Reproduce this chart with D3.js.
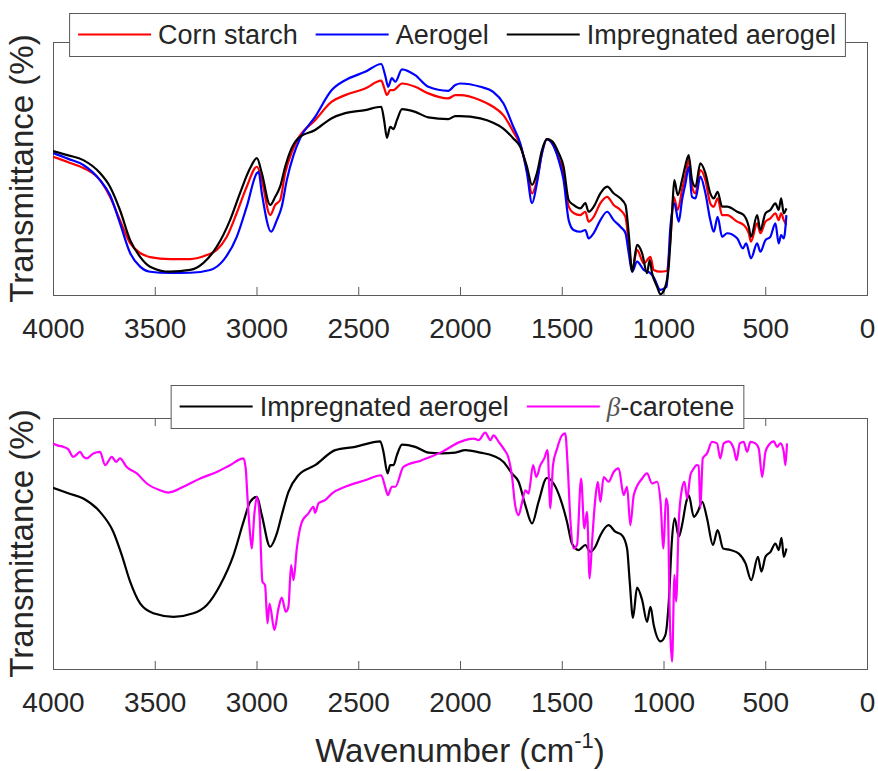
<!DOCTYPE html>
<html>
<head>
<meta charset="utf-8">
<script src="https://cdn.jsdelivr.net/npm/d3@7"></script>
<style>
  html, body { margin: 0; padding: 0; background: #fff; }
  svg { display: block; }
  text { font-family: "Liberation Sans", Arial, Helvetica, sans-serif; fill: #262626; }
</style>
</head>
<body>
<svg id="chart" width="878" height="771"></svg>
<script>
// ---------------- DATA ----------------
const xTicks = [4000, 3500, 3000, 2500, 2000, 1500, 1000, 500, 0];

// Top panel: [wavenumber (cm^-1), transmittance (a.u., %)]
const cornStarch = [[4000,54.6],[3925,52.5],[3851,50.2],[3769,45.4],[3720,38.8],[3671,29.6],[3621,20.5],[3572,16.6],[3523,15.0],[3425,14.2],[3326,14.2],[3244,15.8],[3195,17.8],[3146,23.0],[3097,32.4],[3048,42.8],[2998,50.7],[2974,45.4],[2933,31.6],[2908,35.6],[2884,37.5],[2859,48.2],[2826,56.6],[2794,62.0],[2712,69.1],[2630,76.4],[2564,79.0],[2466,81.6],[2387,84.7],[2373,82.0],[2359,79.0],[2343,81.0],[2327,81.0],[2285,83.6],[2220,82.3],[2156,79.7],[2058,77.7],[2023,79.0],[1999,79.0],[1900,77.0],[1837,74.4],[1787,71.1],[1738,64.5],[1704,59.3],[1671,49.4],[1646,40.2],[1622,45.4],[1597,56.1],[1573,61.6],[1548,60.0],[1515,54.1],[1491,48.2],[1466,34.9],[1442,32.4],[1409,31.6],[1384,32.9],[1368,29.0],[1343,30.9],[1310,36.3],[1277,38.8],[1245,35.6],[1212,33.6],[1187,30.9],[1171,20.5],[1154,9.9],[1130,17.8],[1097,12.5],[1064,15.1],[1048,9.9],[1015,9.2],[985,9.5],[966,21.7],[950,38.8],[930,33.6],[909,41.5],[892,47.4],[876,53.3],[860,42.8],[843,40.2],[819,49.4],[794,45.4],[770,36.2],[753,34.9],[734,38.2],[712,31.6],[687,31.6],[638,29.0],[606,27.7],[581,24.4],[570,21.1],[540,28.3],[524,24.4],[499,29.0],[475,30.3],[450,32.3],[434,29.6],[422,32.3],[409,29.6],[396,27.7]];

const aerogel = [[4000,56.1],[3925,53.8],[3851,51.4],[3769,45.4],[3720,39.5],[3671,28.4],[3621,16.6],[3572,11.2],[3523,9.2],[3425,8.7],[3326,8.8],[3228,9.9],[3162,13.8],[3097,23.0],[3048,34.9],[2998,48.2],[2990,48.7],[2974,40.3],[2928,25.0],[2900,29.6],[2876,34.9],[2851,45.4],[2818,55.3],[2785,62.0],[2712,70.4],[2630,81.0],[2564,84.9],[2466,88.2],[2387,91.3],[2366,86.2],[2353,82.3],[2335,85.7],[2318,84.3],[2285,89.2],[2220,86.9],[2156,82.3],[2058,80.7],[2023,83.0],[1999,83.6],[1900,82.3],[1837,80.3],[1787,75.8],[1738,66.5],[1704,60.0],[1671,48.2],[1646,36.3],[1622,44.2],[1597,56.1],[1573,61.6],[1548,60.0],[1515,53.3],[1491,45.4],[1466,29.6],[1442,25.7],[1409,25.0],[1384,25.7],[1368,22.4],[1343,24.5],[1310,29.6],[1277,32.9],[1245,29.6],[1212,27.0],[1187,24.5],[1171,16.6],[1154,9.2],[1130,13.2],[1097,9.9],[1064,8.6],[1048,7.0],[1015,2.0],[985,3.3],[966,27.0],[947,36.2],[925,29.0],[909,37.5],[892,44.1],[876,50.7],[860,38.8],[843,38.2],[819,46.8],[794,40.2],[770,29.6],[753,25.0],[734,30.9],[712,23.0],[687,24.4],[638,22.4],[610,18.4],[594,20.4],[570,14.5],[540,20.4],[524,17.1],[499,21.7],[475,23.0],[450,28.3],[434,20.4],[422,23.7],[409,22.4],[396,31.6]];

const impregnatedTop = [[4000,56.9],[3925,55.2],[3851,53.3],[3769,48.2],[3720,42.8],[3671,33.6],[3621,21.7],[3572,15.1],[3523,11.2],[3425,9.2],[3326,9.9],[3262,12.6],[3195,19.1],[3130,29.6],[3081,40.3],[3031,50.2],[2998,54.1],[2974,48.2],[2933,35.6],[2908,38.8],[2884,42.8],[2859,50.7],[2835,56.6],[2794,62.0],[2712,65.2],[2630,69.9],[2564,71.9],[2466,73.1],[2387,74.4],[2373,69.1],[2359,62.1],[2343,66.5],[2327,65.6],[2310,69.1],[2285,73.5],[2220,72.4],[2156,70.2],[2058,69.5],[2023,70.7],[1999,70.7],[1900,69.8],[1837,68.1],[1787,65.8],[1738,61.9],[1704,58.6],[1671,50.7],[1646,43.5],[1622,48.2],[1597,57.3],[1573,61.6],[1548,60.8],[1515,56.1],[1491,50.7],[1466,37.5],[1442,35.6],[1409,34.2],[1384,36.3],[1368,32.9],[1343,34.9],[1310,40.2],[1277,42.8],[1245,40.2],[1212,38.2],[1187,35.6],[1171,24.4],[1154,9.2],[1130,19.8],[1105,16.5],[1081,8.6],[1068,13.8],[1056,8.6],[1032,3.3],[1015,0.3],[991,3.3],[975,10.7],[958,32.3],[947,45.4],[930,39.5],[909,45.4],[892,51.4],[876,55.3],[860,45.4],[843,42.8],[819,52.0],[794,48.1],[770,40.2],[753,38.2],[734,40.8],[712,34.9],[687,34.9],[638,32.9],[606,31.6],[581,27.0],[570,23.0],[540,31.6],[524,25.7],[499,32.3],[475,33.6],[450,36.2],[434,33.6],[422,38.2],[409,32.3],[396,34.2]];

// Bottom panel
const impregnatedBottom = [[4000,72.2],[3925,70.0],[3851,67.9],[3769,62.6],[3704,54.7],[3662,45.4],[3621,34.8],[3572,26.1],[3507,22.2],[3408,20.8],[3310,22.2],[3244,25.5],[3179,33.4],[3113,45.4],[3064,58.6],[3031,66.6],[2998,68.6],[2974,61.3],[2933,48.7],[2900,54.0],[2876,61.3],[2843,70.6],[2794,77.2],[2712,81.2],[2613,87.2],[2515,88.5],[2392,90.7],[2376,86.5],[2356,77.9],[2343,81.2],[2327,81.2],[2310,85.2],[2285,89.4],[2220,88.5],[2155,86.2],[2089,85.9],[2023,86.2],[1974,87.2],[1900,86.2],[1835,84.9],[1786,82.5],[1745,77.9],[1712,74.6],[1679,65.3],[1646,58.0],[1614,66.6],[1573,76.1],[1540,73.9],[1507,67.9],[1474,58.6],[1450,50.0],[1417,47.4],[1384,49.4],[1360,46.7],[1335,48.7],[1310,53.3],[1270,57.3],[1237,54.7],[1204,53.3],[1179,48.0],[1166,34.8],[1150,20.4],[1130,32.4],[1105,27.5],[1081,18.8],[1064,24.8],[1048,17.5],[1015,11.0],[991,13.5],[974,26.8],[958,52.0],[945,60.0],[925,52.7],[909,57.3],[888,66.6],[876,69.3],[851,60.6],[832,62.6],[810,66.6],[786,60.0],[757,49.4],[734,55.3],[707,48.0],[671,47.4],[630,46.0],[597,42.1],[569,35.4],[536,44.7],[519,38.8],[499,44.7],[474,46.7],[450,50.0],[434,47.4],[420,52.3],[409,44.7],[396,48.0]];

const betaCarotene = [[4000,89.8],[3975,89.0],[3949,88.5],[3925,87.5],[3900,84.5],[3867,86.5],[3850,84.5],[3834,83.9],[3802,85.9],[3769,86.5],[3744,81.2],[3711,84.5],[3690,82.5],[3671,83.9],[3638,80.5],[3588,77.9],[3539,73.9],[3474,71.2],[3433,70.3],[3359,72.6],[3277,75.9],[3195,78.5],[3130,81.2],[3064,83.9],[3053,79.9],[3044,67.9],[3031,53.3],[3023,48.0],[3011,61.3],[2998,68.6],[2985,61.3],[2971,34.8],[2958,33.4],[2946,18.2],[2936,26.1],[2912,15.5],[2892,24.2],[2876,28.4],[2856,22.8],[2843,24.8],[2830,41.4],[2818,35.4],[2802,48.0],[2777,58.6],[2745,62.0],[2720,64.6],[2712,62.2],[2695,66.0],[2663,67.3],[2630,69.9],[2564,72.6],[2466,75.2],[2387,77.2],[2368,72.6],[2354,69.3],[2335,72.6],[2318,72.6],[2278,80.5],[2187,83.2],[2089,86.5],[1999,90.5],[1933,91.8],[1909,91.2],[1876,94.2],[1851,91.2],[1835,93.1],[1810,90.5],[1786,87.8],[1761,83.9],[1745,77.2],[1729,65.3],[1712,61.3],[1696,66.0],[1679,71.2],[1663,69.9],[1641,81.2],[1625,76.5],[1605,81.2],[1586,83.9],[1570,87.2],[1556,64.0],[1543,81.2],[1523,87.8],[1499,93.1],[1483,93.9],[1471,81.2],[1458,60.0],[1442,48.0],[1425,49.4],[1405,75.9],[1389,56.0],[1376,62.6],[1363,36.1],[1351,50.7],[1335,67.9],[1323,74.6],[1310,66.6],[1294,76.5],[1270,74.6],[1245,78.5],[1220,79.9],[1196,69.3],[1179,72.6],[1163,57.3],[1146,69.3],[1105,75.9],[1081,77.9],[1056,73.9],[1032,74.6],[1015,67.0],[1000,48.0],[988,68.0],[979,65.0],[969,20.0],[958,2.9],[946,37.5],[938,26.8],[925,58.6],[909,71.9],[897,74.6],[884,67.9],[868,77.2],[851,79.9],[838,81.2],[827,81.0],[819,64.0],[807,83.9],[786,85.9],[762,90.5],[737,89.9],[721,83.9],[704,89.9],[680,90.7],[655,87.8],[641,83.2],[625,89.9],[606,90.5],[589,86.5],[573,90.5],[548,89.9],[532,87.8],[515,76.5],[499,86.5],[483,89.2],[458,90.7],[442,88.5],[425,89.9],[409,86.5],[401,81.2],[393,89.9]];

const topLabels = ["Corn starch", "Aerogel", "Impregnated aerogel"];
const topColors = ["#ff0000", "#0000ff", "#000000"];
const bottomLabels = ["Impregnated aerogel", "β-carotene"];
const bottomColors = ["#000000", "#ff00ff"];

const yLabel = "Transmittance (%)";
const xLabelMain = "Wavenumber (cm";
const xLabelSup = "-1";

// ---------------- LAYOUT ----------------
const svg = d3.select("#chart");
const left = 53, right = 867;
const panels = [
  { top: 42, bottom: 295, series: [cornStarch, aerogel, impregnatedTop], colors: topColors, labels: topLabels, legendY: 13 },
  { top: 418, bottom: 669, series: [impregnatedBottom, betaCarotene], colors: bottomColors, labels: bottomLabels, legendY: 385 }
];
const axisColor = "#5a5a5a";
const textColor = "#262626";

const x = d3.scaleLinear().domain([4000, 0]).range([left, right]);

panels.forEach((p, i) => {
  const y = d3.scaleLinear().domain([0, 100]).range([p.bottom, p.top]);
  const g = svg.append("g");

  const clipId = "clip" + i;
  svg.append("clipPath").attr("id", clipId)
    .append("rect").attr("x", left).attr("y", p.top).attr("width", right - left).attr("height", p.bottom - p.top + 1);

  const xb = d3.axisBottom(x).tickValues(xTicks).tickSize(-8).tickPadding(23).tickFormat(d3.format("d"));
  const gx = g.append("g").attr("transform", `translate(0,${p.bottom})`).call(xb);
  gx.select(".domain").remove();
  gx.selectAll(".tick line").attr("stroke", axisColor);
  gx.selectAll(".tick text").attr("fill", textColor).style("font-size", "28px")
    .style("font-family", '"Liberation Sans", Arial, sans-serif');

  const xt = d3.axisTop(x).tickValues(xTicks).tickSize(-8).tickFormat("");
  const gxt = g.append("g").attr("transform", `translate(0,${p.top})`).call(xt);
  gxt.select(".domain").remove();
  gxt.selectAll(".tick line").attr("stroke", axisColor);

  g.append("rect").attr("x", left + 0.5).attr("y", p.top + 0.5)
    .attr("width", right - left).attr("height", p.bottom - p.top)
    .attr("fill", "none").attr("stroke", axisColor).attr("stroke-width", 1);

  const line = d3.line().x(d => x(d[0])).y(d => y(d[1])).curve(d3.curveMonotoneX);
  const lg = g.append("g").attr("clip-path", `url(#${clipId})`);
  p.series.forEach((s, k) => {
    lg.append("path").datum(s).attr("d", line)
      .attr("fill", "none").attr("stroke", p.colors[k]).attr("stroke-width", 2.2)
      .attr("stroke-linejoin", "round");
  });

  svg.append("text")
    .attr("transform", `translate(33,${(p.top + p.bottom) / 2}) rotate(-90)`)
    .attr("text-anchor", "middle").style("font-size", "33px")
    .text(yLabel);

  // legend
  const leg = svg.append("g");
  const box = leg.append("rect").attr("fill", "#fff").attr("stroke", axisColor).attr("stroke-width", 1);
  const items = leg.append("g");
  let cx = 0;
  const midY = 21.5;
  p.labels.forEach((lab, k) => {
    items.append("line").attr("x1", cx).attr("x2", cx + 73).attr("y1", midY).attr("y2", midY)
      .attr("stroke", p.colors[k]).attr("stroke-width", 2);
    const t = items.append("text").attr("x", cx + 80).attr("y", midY + 9.8).style("font-size", "27px");
    if (lab.startsWith("β")) {
      t.append("tspan").style("font-style", "italic").style("font-family", '"Liberation Serif", "DejaVu Serif", serif')
        .attr("fill", "#555").text("β");
      t.append("tspan").text(lab.slice(1));
    } else {
      t.text(lab);
    }
    cx = cx + 80 + t.node().getComputedTextLength() + 18;
  });
  const contentW = cx - 18;
  const boxW = contentW + 18;
  const boxX = 457 - boxW / 2;
  box.attr("x", boxX + 0.5).attr("y", p.legendY + 0.5).attr("width", boxW).attr("height", 43);
  items.attr("transform", `translate(${boxX + 9},${p.legendY})`);
});

const xl = svg.append("text").attr("x", (left + right) / 2).attr("y", 762)
  .attr("text-anchor", "middle").style("font-size", "33px");
xl.append("tspan").text(xLabelMain);
xl.append("tspan").attr("dy", -14).style("font-size", "22px").text(xLabelSup);
xl.append("tspan").attr("dy", 14).text(")");
</script>
</body>
</html>
